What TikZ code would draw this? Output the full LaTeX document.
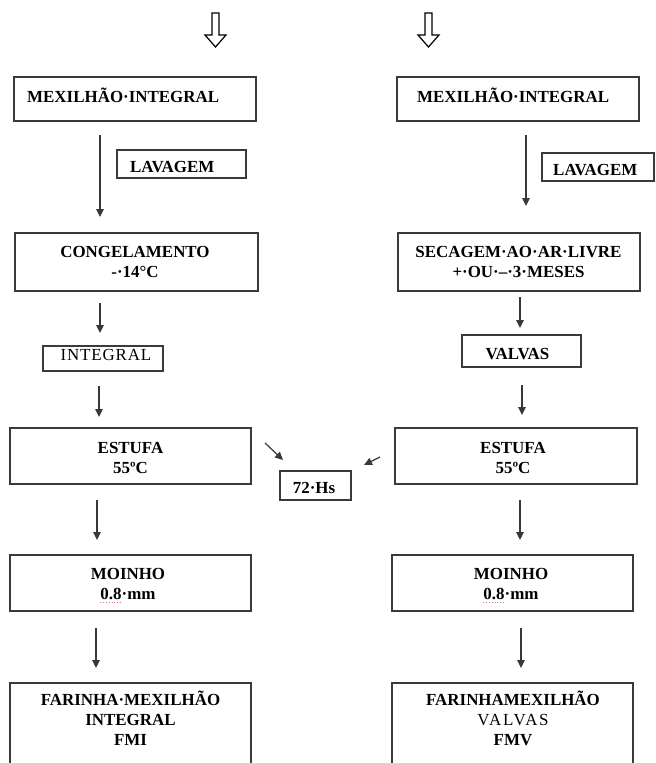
\documentclass[tikz,border=0pt]{standalone}
\usepackage{fontspec}
\setmainfont{Liberation Serif}
\usetikzlibrary{arrows.meta}
\definecolor{boxc}{HTML}{3A3A3A}
\definecolor{arrc}{HTML}{383838}
\definecolor{spellc}{HTML}{D870B0}
\begin{document}
\begin{tikzpicture}[x=1bp,y=-1bp,
  box/.style={draw=boxc, line width=1.3bp, rectangle, inner sep=0pt},
  txt/.style={font=\fontsize{17}{20}\selectfont\bfseries, inner sep=0pt, align=center, text=black, anchor=base},
  txtl/.style={txt, anchor=base west},
  reg/.style={font=\fontsize{17}{20}\selectfont},
  arr/.style={draw=arrc, line width=1.2bp, -{Triangle[width=7.5bp,length=8bp]}},
  hollow/.style={draw=black, line width=1.2bp, fill=white, line join=miter},
  spell/.style={draw=spellc, line width=0.9bp, dotted}]

\useasboundingbox (0,0) rectangle (656,763);
\fill[white] (0,0) rectangle (656,763);

% hollow arrows at the top
\draw[hollow] (212,13) -- (219,13) -- (219,35) -- (226,35) -- (215.5,47) -- (205,35) -- (212,35) -- cycle;
\draw[hollow] (425,13) -- (432,13) -- (432,35) -- (439,35) -- (428.5,47) -- (418,35) -- (425,35) -- cycle;

% ---------- left column ----------
\node[box, minimum width=242bp, minimum height=44bp] (l1) at (135,99) {};
\node[txtl] (l1t) at (27,102) {MEXILHÃO·INTEGRAL};

\node[box, minimum width=129bp, minimum height=28bp] (llav) at (181.5,164) {};
\node[txtl] (llavt) at (130,172) {LAVAGEM};

\node[box, minimum width=243bp, minimum height=58bp] (lcong) at (136.5,262) {};
\node[txt] (lcongt) at (135,277) {CONGELAMENTO\\-·14°C};

\node[box, minimum width=120bp, minimum height=25bp] (lint) at (103,358.5) {};
\node[txt, reg] (lintt) at (106,360) {\addfontfeature{LetterSpace=5}INTEGRAL};

\node[box, minimum width=241bp, minimum height=56bp] (lest) at (130.5,456) {};
\node[txt] (lestt) at (130.5,473) {ESTUFA\\55ºC};

\node[box, minimum width=241bp, minimum height=56bp] (lmo) at (130.5,583) {};
\node[txt] (lmot) at (128,599) {MOINHO\\0.8·mm};

% ---------- right column ----------
\node[box, minimum width=242bp, minimum height=44bp] (r1) at (518,99) {};
\node[txtl] (r1t) at (417,102) {MEXILHÃO·INTEGRAL};

\node[box, minimum width=112bp, minimum height=28bp] (rlav) at (598,167) {};
\node[txtl] (rlavt) at (553,175) {LAVAGEM};

\node[box, minimum width=242bp, minimum height=58bp] (rsec) at (519,262) {};
\node[txt] (rsect) at (518.5,277) {SECAGEM·AO·AR·LIVRE\\+·OU·–·3·MESES};

\node[box, minimum width=119bp, minimum height=32bp] (rval) at (521.5,351) {};
\node[txt] (rvalt) at (517.5,359) {VALVAS};

\node[box, minimum width=242bp, minimum height=56bp] (rest) at (516,456) {};
\node[txt] (restt) at (513,473) {ESTUFA\\55ºC};

\node[box, minimum width=241bp, minimum height=56bp] (rmo) at (512.5,583) {};
\node[txt] (rmot) at (511,599) {MOINHO\\0.8·mm};

% ---------- middle ----------
\node[box, minimum width=71bp, minimum height=29bp] (hs) at (315.5,485.5) {};
\node[txt] (hst) at (314,493) {72·Hs};

% spell-check marks under 0.8
\coordinate (sp1a) at (100,602); \coordinate (sp1b) at (122,602);
\coordinate (sp2a) at (483,602); \coordinate (sp2b) at (505,602);
\draw[spell] (sp1a) -- (sp1b);
\draw[spell] (sp2a) -- (sp2b);

% ---------- bottom boxes (cut by the page edge) ----------
\begin{scope}
\clip (0,0) rectangle (656,763);
\node[box, minimum width=241bp, minimum height=110bp] (lfar) at (130.5,738) {};
\node[box, minimum width=241bp, minimum height=110bp] (rfar) at (512.5,738) {};
\end{scope}
\node[txt] (lfart) at (130.5,745) {FARINHA·MEXILHÃO\\INTEGRAL\\FMI};
\node[txt] (rfart) at (513,745) {FARINHAMEXILHÃO\\{\mdseries\addfontfeature{LetterSpace=10}VALVAS}\\FMV};

% ---------- arrows ----------
\coordinate (a1s) at (100,135); \coordinate (a1e) at (100,217);
\coordinate (b1s) at (526,135); \coordinate (b1e) at (526,206);
\coordinate (a2s) at (100,303); \coordinate (a2e) at (100,333);
\coordinate (b2s) at (520,297); \coordinate (b2e) at (520,328);
\coordinate (a3s) at (99,386);  \coordinate (a3e) at (99,417);
\coordinate (b3s) at (522,385); \coordinate (b3e) at (522,415);
\coordinate (dls) at (265,443); \coordinate (dle) at (283,460);
\coordinate (drs) at (380,457); \coordinate (dre) at (364,465);
\coordinate (a4s) at (97,500);  \coordinate (a4e) at (97,540);
\coordinate (b4s) at (520,500); \coordinate (b4e) at (520,540);
\coordinate (a5s) at (96,628);  \coordinate (a5e) at (96,668);
\coordinate (b5s) at (521,628); \coordinate (b5e) at (521,668);

\draw[arr] (a1s) -- (a1e);
\draw[arr] (b1s) -- (b1e);
\draw[arr] (a2s) -- (a2e);
\draw[arr] (b2s) -- (b2e);
\draw[arr] (a3s) -- (a3e);
\draw[arr] (b3s) -- (b3e);
\draw[arr] (dls) -- (dle);
\draw[arr] (drs) -- (dre);
\draw[arr] (a4s) -- (a4e);
\draw[arr] (b4s) -- (b4e);
\draw[arr] (a5s) -- (a5e);
\draw[arr] (b5s) -- (b5e);
\end{tikzpicture}
\end{document}
